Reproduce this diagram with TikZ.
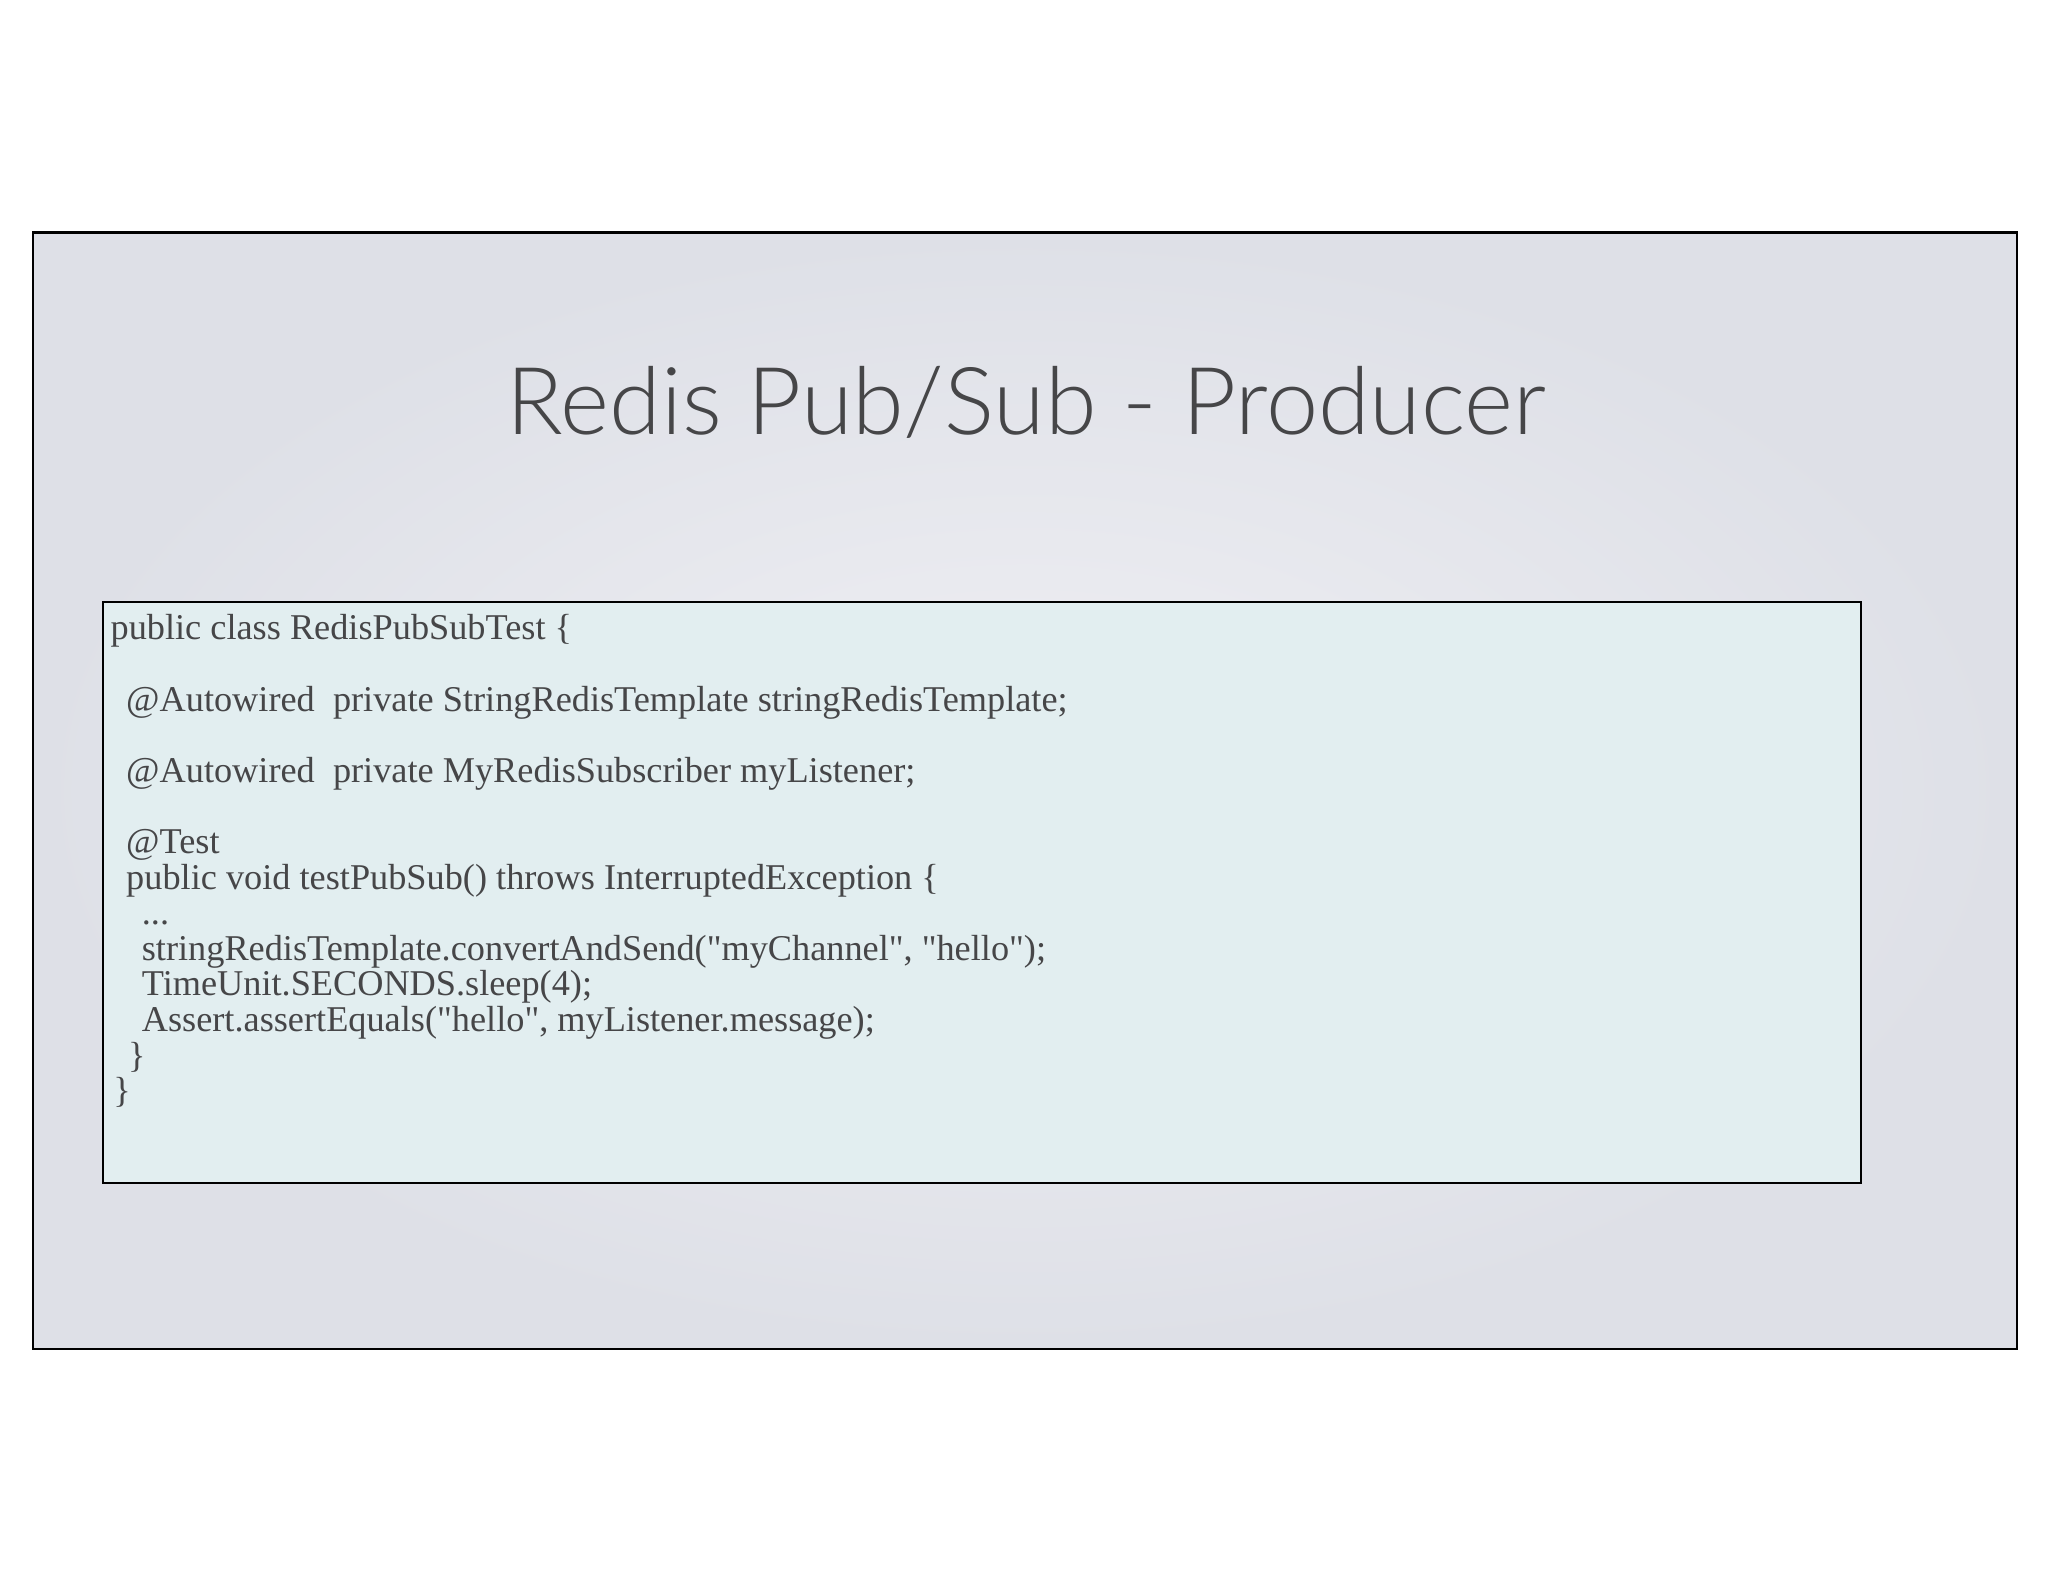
\documentclass[tikz,border=0pt]{standalone}
\usepackage{fontspec}
\setmainfont{Liberation Serif}
\newfontfamily\codefont{Liberation Serif}
\newfontfamily\titlefont{Lato Light}
\definecolor{slidegray}{RGB}{222,224,231}
\definecolor{slidelight}{RGB}{240,240,244}
\definecolor{codefill}{RGB}{226,238,240}
\definecolor{inkgray}{RGB}{70,70,72}
\begin{document}
\begin{tikzpicture}[x=0.01cm,y=-0.01cm]
\tikzset{slide/.style={draw=black,line width=0.5pt,inner color=slidelight,outer color=slidegray},
  codebox/.style={draw=black,line width=0.4pt,fill=codefill},
  code/.style={anchor=north west,inner sep=0pt,align=left,text=inkgray,font=\codefont\fontsize{7.9pt}{7.75pt}\selectfont}}
\useasboundingbox (0,0) rectangle (1568,1211);
\shade[slide] (25,178) rectangle (1544,1033);
\node[text=inkgray,font=\titlefont\fontsize{20.4pt}{24pt}\selectfont] (title) at (786,308) {Redis Pub/Sub - Producer};
\draw[codebox] (79,461) rectangle (1425,906);
\node[code] (listing) at (84,470) {public class RedisPubSubTest \{\\
\mbox{}\\
\hspace{3.4pt}@Autowired\ \ private StringRedisTemplate stringRedisTemplate;\\
\mbox{}\\
\hspace{3.4pt}@Autowired\ \ private MyRedisSubscriber myListener;\\
\mbox{}\\
\hspace{3.4pt}@Test\\
\hspace{3.4pt}public void testPubSub() throws InterruptedException \{\\
\hspace{6.8pt}...\\
\hspace{6.8pt}stringRedisTemplate.convertAndSend("myChannel", "hello");\\
\hspace{6.8pt}TimeUnit.SECONDS.sleep(4);\\
\hspace{6.8pt}Assert.assertEquals("hello", myListener.message);\\
\hspace{3.8pt}\}\\
\hspace{0.6pt}\}};
\end{tikzpicture}
\end{document}
